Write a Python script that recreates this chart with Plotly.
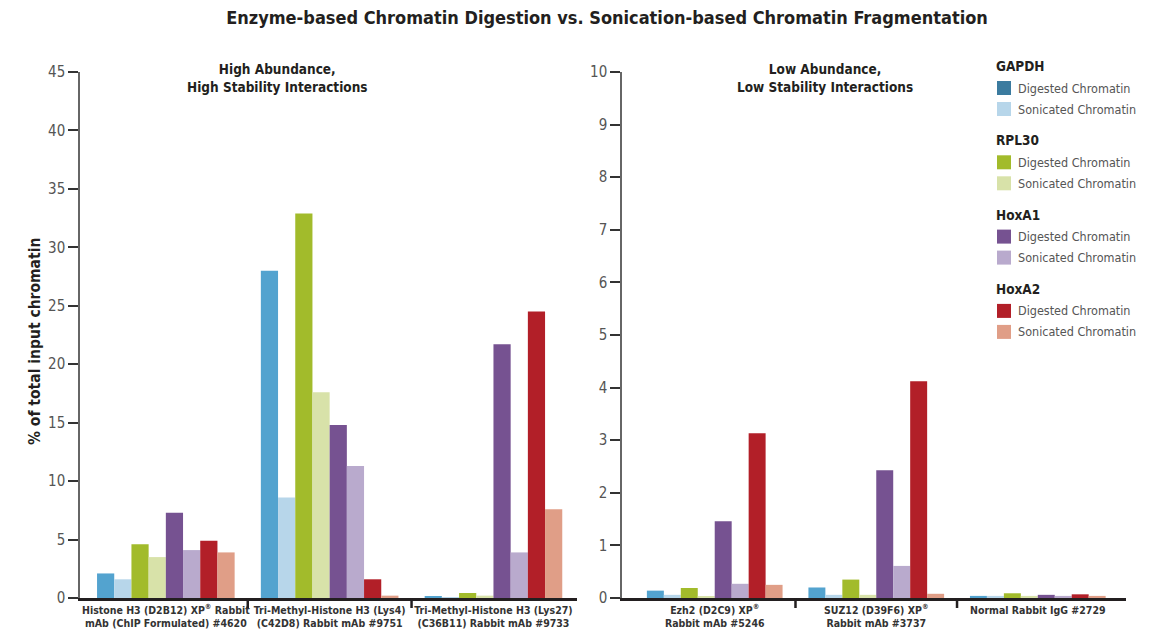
import plotly.graph_objects as go

# ---------------- data ----------------
high_categories = [
    "Histone H3 (D2B12) XP<sup>®</sup> Rabbit<br>mAb (ChIP Formulated) #4620",
    "Tri-Methyl-Histone H3 (Lys4)<br>(C42D8) Rabbit mAb #9751",
    "Tri-Methyl-Histone H3 (Lys27)<br>(C36B11) Rabbit mAb #9733",
]
low_categories = [
    "Ezh2 (D2C9) XP<sup>®</sup><br>Rabbit mAb #5246",
    "SUZ12 (D39F6) XP<sup>®</sup><br>Rabbit mAb #3737",
    "Normal Rabbit IgG #2729",
]

genes = ["GAPDH", "RPL30", "HoxA1", "HoxA2"]
conditions = ["Digested Chromatin", "Sonicated Chromatin"]

gapdh_dig_high = [2.1, 28.0, 0.1]
gapdh_son_high = [1.6, 8.6, 0.03]
rpl30_dig_high = [4.6, 32.9, 0.43]
rpl30_son_high = [3.5, 17.6, 0.2]
hoxa1_dig_high = [7.3, 14.8, 21.7]
hoxa1_son_high = [4.1, 11.3, 3.9]
hoxa2_dig_high = [4.9, 1.6, 24.5]
hoxa2_son_high = [3.9, 0.2, 7.6]

gapdh_dig_low = [0.14, 0.2, 0.04]
gapdh_son_low = [0.06, 0.06, 0.04]
rpl30_dig_low = [0.19, 0.35, 0.09]
rpl30_son_low = [0.02, 0.06, 0.04]
hoxa1_dig_low = [1.46, 2.43, 0.06]
hoxa1_son_low = [0.27, 0.61, 0.04]
hoxa2_dig_low = [3.13, 4.12, 0.07]
hoxa2_son_low = [0.25, 0.08, 0.04]

high_series = [gapdh_dig_high, gapdh_son_high, rpl30_dig_high, rpl30_son_high,
               hoxa1_dig_high, hoxa1_son_high, hoxa2_dig_high, hoxa2_son_high]
low_series = [gapdh_dig_low, gapdh_son_low, rpl30_dig_low, rpl30_son_low,
              hoxa1_dig_low, hoxa1_son_low, hoxa2_dig_low, hoxa2_son_low]

bar_colors = ["#53a3cf", "#b7d6ea", "#a2bb2b", "#d8e2a9",
              "#765291", "#b9aacd", "#b21f28", "#e09e87"]
legend_colors = ["#3b7b9f", "#b7d6ea", "#a2bb2b", "#d8e2a9",
                 "#765291", "#b9aacd", "#b21f28", "#e09e87"]

# ---------------- figure ----------------
FONT = "DejaVu Sans Condensed, Liberation Sans Narrow, sans-serif"
W, H = 1167, 636
L, R, T, B = 80, 41, 72, 38
PW, PH = W - L - R, H - T - B


def px_x(p):
    return (p - L) / PW


def px_y(p):
    return (H - B - p) / PH


fig = go.Figure()
for i, vals in enumerate(high_series):
    fig.add_trace(go.Bar(x=high_categories, y=vals, marker_color=bar_colors[i],
                         marker_line_width=0, xaxis="x", yaxis="y",
                         name=genes[i // 2] + " " + conditions[i % 2], showlegend=False))
for i, vals in enumerate(low_series):
    fig.add_trace(go.Bar(x=low_categories, y=vals, marker_color=bar_colors[i],
                         marker_line_width=0, xaxis="x2", yaxis="y2",
                         name=genes[i // 2] + " " + conditions[i % 2], showlegend=False))

xcommon = dict(
    type="category", showline=True, linewidth=3, linecolor="#231f20",
    ticks="", showgrid=False, zeroline=False, tickangle=0, automargin=False,
    tickfont=dict(family=FONT, size=10.5, color="#333333", weight="bold"),
    fixedrange=True,
)
ycommon = dict(
    showline=True, linewidth=1.5, linecolor="#666666", ticks="outside",
    ticklen=10, tickwidth=2, tickcolor="#333333", showgrid=False, zeroline=False,
    automargin=False,
    tickfont=dict(family=FONT, size=15, color="#555555"),
)

fig.update_layout(
    width=W, height=H,
    margin=dict(l=L, r=R, t=T, b=B, autoexpand=False),
    paper_bgcolor="white", plot_bgcolor="white",
    barmode="group", bargap=0.16, bargroupgap=0,
    showlegend=False,
    font=dict(family=FONT),
    title=dict(
        text="Enzyme-based Chromatin Digestion vs. Sonication-based Chromatin Fragmentation",
        x=607 / W, xanchor="center", y=1 - 18 / H, yanchor="middle",
        font=dict(family=FONT, size=18, color="#231f20", weight="bold"),
    ),
    xaxis=dict(domain=[0, px_x(577)], range=[-0.524, 2.51], anchor="y", **xcommon),
    xaxis2=dict(domain=[px_x(622), 1], range=[-0.574, 2.546], anchor="y2", **xcommon),
    yaxis=dict(domain=[0, 1], range=[0, 45], dtick=5, anchor="x", **ycommon),
    yaxis2=dict(domain=[0, 1], range=[0, 10], dtick=1, anchor="x2", **ycommon),
)

# category dividers
for xr in ["x", "x2"]:
    for b in [0.5, 1.5]:
        fig.add_shape(type="line", xref=xr, yref="paper", x0=b, x1=b,
                      y0=0, y1=-10 / PH, line=dict(color="#231f20", width=2.5))

# panel subtitles
fig.add_annotation(text="High Abundance,<br>High Stability Interactions",
                   xref="paper", yref="paper", x=px_x(277), y=px_y(78),
                   xanchor="center", yanchor="middle", showarrow=False,
                   font=dict(family=FONT, size=13.5, color="#231f20", weight="bold"))
fig.add_annotation(text="Low Abundance,<br>Low Stability Interactions",
                   xref="paper", yref="paper", x=px_x(825), y=px_y(78),
                   xanchor="center", yanchor="middle", showarrow=False,
                   font=dict(family=FONT, size=13.5, color="#231f20", weight="bold"))

# y-axis title
fig.add_annotation(text="% of total input chromatin", xref="paper", yref="paper",
                   x=px_x(35), y=px_y(342), textangle=-90, showarrow=False,
                   xanchor="center", yanchor="middle",
                   font=dict(family=FONT, size=15.5, color="#231f20", weight="bold"))

# legend (manual, grouped by gene)
lx = 997
for g, gene in enumerate(genes):
    ty = 66 + 74.3 * g
    fig.add_annotation(text=gene, xref="paper", yref="paper", x=px_x(lx - 3), y=px_y(ty),
                       xanchor="left", yanchor="middle", showarrow=False,
                       font=dict(family=FONT, size=13.5, color="#231f20", weight="bold"))
    for c, cond in enumerate(conditions):
        iy = ty + 22 + 21 * c
        k = g * 2 + c
        fig.add_shape(type="rect", xref="paper", yref="paper",
                      x0=px_x(lx), x1=px_x(lx + 14), y0=px_y(iy - 7), y1=px_y(iy + 7),
                      fillcolor=legend_colors[k], line=dict(width=0))
        fig.add_annotation(text=cond, xref="paper", yref="paper", x=px_x(lx + 19), y=px_y(iy),
                           xanchor="left", yanchor="middle", showarrow=False,
                           font=dict(family=FONT, size=12.5, color="#555555"))

fig.write_html("out.html", config={"displayModeBar": False},
               post_script="document.body.style.margin='0';")
